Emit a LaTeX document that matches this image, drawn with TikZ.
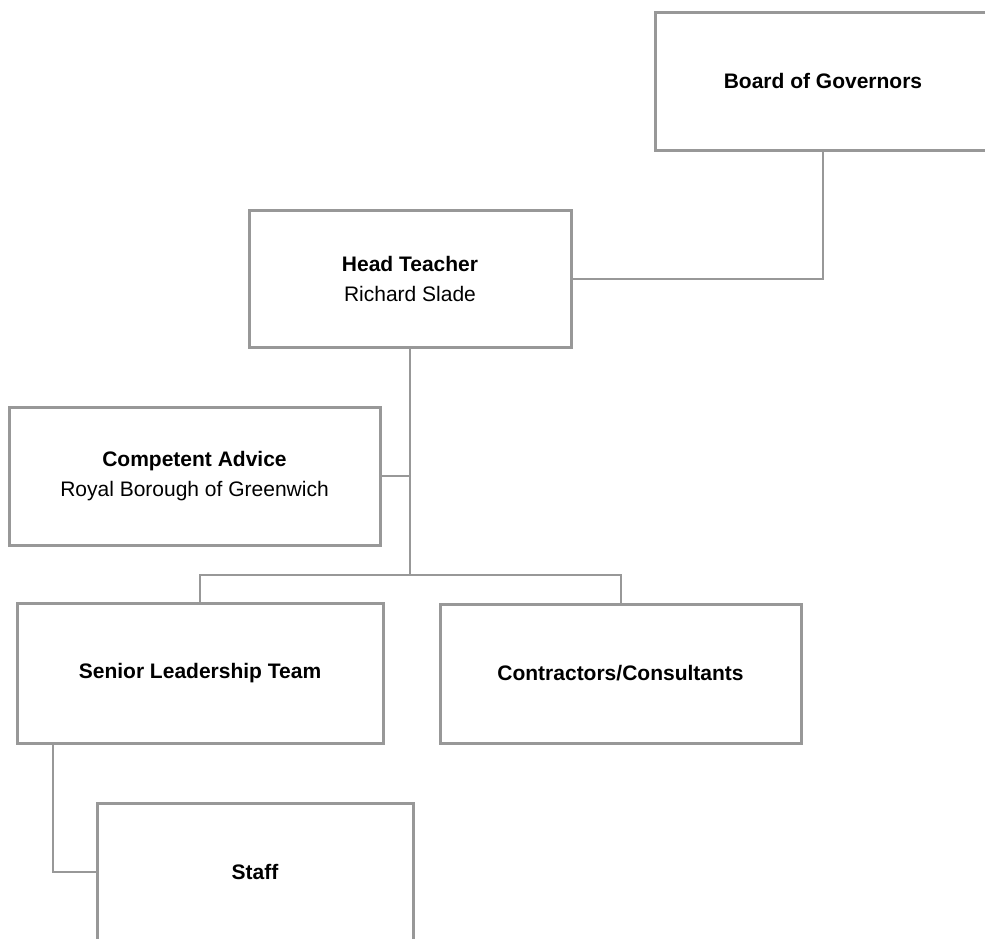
\documentclass[tikz,border=0pt]{standalone}
\usepackage{fontspec}
\setmainfont{Liberation Sans}
\definecolor{linegray}{RGB}{152,152,152}
\tikzset{
  orgbox/.style={draw=linegray, line width=1.5pt, fill=white, rectangle,
    inner sep=0pt, align=center, font=\fontsize{10.5}{15}\selectfont},
  link/.style={draw=linegray, line width=1pt}
}
\begin{document}
\begin{tikzpicture}[x=0.5pt,y=-0.5pt]
      \useasboundingbox (0,0) rectangle (985,938);
      \clip (0,0) rectangle (985,938);
      \draw
        (823,81) node[orgbox, minimum width=168pt, minimum height=69pt] (gov){\textbf{Board of Governors}}
        (410,278.5) node[orgbox, minimum width=161pt, minimum height=68.5pt] (head){\textbf{Head Teacher}\\Richard Slade}
        (194.5,476) node[orgbox, minimum width=185.5pt, minimum height=69pt] (advice){\textbf{Competent Advice}\\Royal Borough of Greenwich}
        (200,673) node[orgbox, minimum width=183pt, minimum height=70pt] (slt){\textbf{Senior Leadership Team}}
        (620.5,673.5) node[orgbox, minimum width=180.5pt, minimum height=69.5pt] (contr){\textbf{Contractors/Consultants}}
        (255,872) node[orgbox, minimum width=158pt, minimum height=69pt] (staff){\textbf{Staff}};
      \coordinate (split) at (410,575);
      \coordinate (sltfoot) at (53,743);
      \begin{scope}[link]
        \draw (gov.south) |- (head.east);
        \draw (head.south) -- (split);
        \draw (advice.east) -- (advice.east -| split);
        \draw (slt.north) |- (split) -| (contr.north);
        \draw (sltfoot) |- (staff.west);
      \end{scope}
\end{tikzpicture}
\end{document}
